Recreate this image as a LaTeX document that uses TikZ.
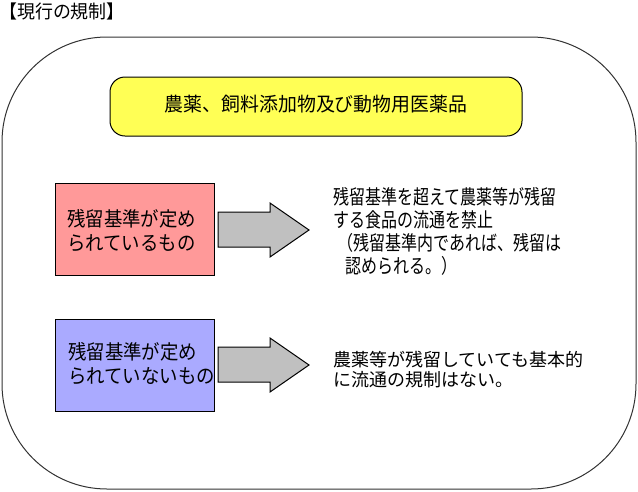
\documentclass[tikz,border=0pt]{standalone}
\usepackage{fontspec}
\newfontfamily\jpTitle[FakeStretch=0.97]{Noto Sans CJK JP}
\newfontfamily\jpBox[FakeStretch=0.92]{Noto Sans CJK JP}
\newfontfamily\jpNarrow[FakeStretch=0.8]{Noto Sans CJK JP}
\newfontfamily\jpPlain{Noto Sans CJK JP}
\definecolor{pinkfill}{HTML}{FF9999}
\definecolor{bluefill}{HTML}{AAAAFF}
\definecolor{yellowfill}{HTML}{FFFF55}
\definecolor{arrowgray}{HTML}{C0C0C0}
\definecolor{outline}{HTML}{333333}
\tikzset{
  jptext/.style={inner sep=0pt, align=left, anchor=west},
  catbox/.style={draw=black, line width=1pt, minimum width=159pt, minimum height=92pt, inner sep=0pt},
  blockarrow/.style={draw=black, line width=1pt, fill=arrowgray, line join=miter},
}
\begin{document}
\begin{tikzpicture}[x=1pt,y=-1pt]
\useasboundingbox (0,0) rectangle (638,491);
% title
\node[jptext, font={\jpTitle\fontsize{18.5}{20}\selectfont}] (title) at (-1,11.5) {【現行の規制】};
% outer frame
\draw[outline, line width=1pt, rounded corners=105pt] (2,37) rectangle (636,489);
% yellow header
\draw[black, line width=1pt, fill=yellowfill, rounded corners=15pt] (110,77) rectangle (522,136);
\node[inner sep=0pt, font={\jpTitle\fontsize{19.5}{21}\selectfont}] (header) at (316,104) {農薬、飼料添加物及び動物用医薬品};
% category boxes
\node[catbox, fill=pinkfill] (boxA) at (134.5,229) {};
\node[jptext, font={\jpBox\fontsize{20}{23.5}\selectfont}] (textA) at (67,230.5) {残留基準が定め\\られているもの};
\node[catbox, fill=bluefill] (boxB) at (134.5,365) {};
\node[jptext, font={\jpBox\fontsize{20}{23.5}\selectfont}] (textB) at (68,363.5) {残留基準が定め\\られていないもの};
% block arrows
\draw[blockarrow] (218,212) -- (270,212) -- (270,203) -- (309,230) -- (270,257) -- (270,247) -- (218,247) -- cycle;
\draw[blockarrow] (218,347) -- (270,347) -- (270,338) -- (309,365) -- (270,392) -- (270,382) -- (218,382) -- cycle;
% descriptions
\node[jptext, font={\jpNarrow\fontsize{20}{22.8}\selectfont}] (descA) at (333,231.5)
  {残留基準を超えて農薬等が残留\\する食品の流通を禁止\\\hspace*{4pt}（残留基準内であれば、残留は\\\hspace*{12pt}認められる。）};
\node[jptext, font={\jpPlain\fontsize{18}{20}\selectfont}] (descB) at (333,370)
  {農薬等が残留していても基本的\\に流通の規制はない。};
\end{tikzpicture}
\end{document}
